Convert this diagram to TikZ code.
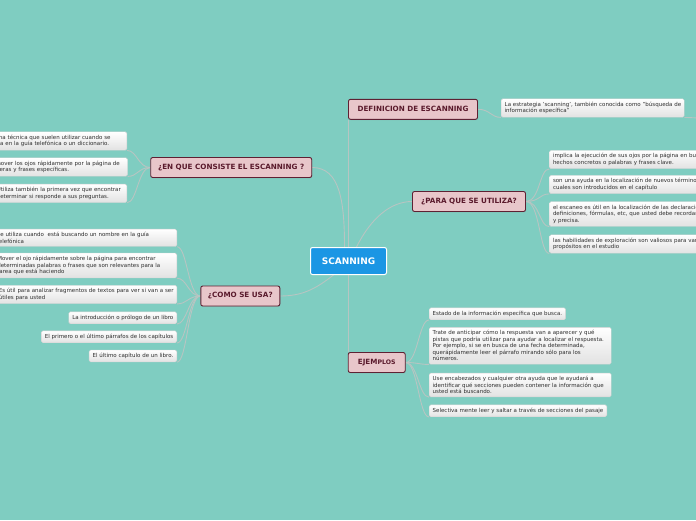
\documentclass[tikz,border=0pt]{standalone}
\usepackage{fontspec}
\setmainfont{DejaVu Sans}
\usetikzlibrary{shadows,calc}
\pgfdeclarelayer{bglayer}
\pgfdeclarelayer{linelayer}
\pgfsetlayers{bglayer,linelayer,main}
\definecolor{bg}{HTML}{7FCDC1}
\definecolor{conncol}{HTML}{B7C5C2}
\definecolor{pinkfill}{HTML}{E8C6CA}
\definecolor{pinkdraw}{HTML}{5E2133}
\definecolor{pinktext}{HTML}{5A1A2C}
\definecolor{bluefill}{HTML}{1B96E4}
\definecolor{leaftext}{HTML}{2E2E2E}
\definecolor{leafdraw}{HTML}{D2D2D2}
\definecolor{leafbot}{HTML}{E2E2E2}
\tikzset{
 rootbox/.style={draw=white, line width=1pt, fill=bluefill, rounded corners=2pt,
   minimum width=76pt, minimum height=27pt, text=white,
   font=\fontsize{9}{10}\selectfont\bfseries, inner sep=0pt},
 branchbox/.style={draw=pinkdraw, line width=0.9pt, fill=pinkfill, rounded corners=2pt,
   minimum height=20pt, text=pinktext, font=\fontsize{7.2}{8}\selectfont\bfseries, inner sep=0pt,
   drop shadow={opacity=0.25, shadow xshift=0.6pt, shadow yshift=-0.8pt}},
 leafbox/.style={draw=leafdraw, line width=0.4pt, top color=white, bottom color=leafbot,
   rounded corners=1.5pt, text=leaftext, font=\fontsize{5.5}{6.5}\selectfont,
   inner xsep=3.5pt, inner ysep=3.2pt, align=left},
 conn/.style={draw=conncol, line width=0.9pt},
}
\begin{document}
\begin{tikzpicture}[x=1pt,y=-1pt]
\useasboundingbox (0,0) rectangle (696,520);
\begin{pgfonlayer}{bglayer}
\fill[bg] (0,0) rectangle (696,520);
\end{pgfonlayer}
\clip (0,0) rectangle (696,520);

% main nodes
\node[rootbox] (scan) at (348.5,261) {SCANNING};
\node[branchbox, minimum width=129pt] (def) at (413,109.3) {DEFINICION DE ESCANNING};
\node[branchbox, minimum width=161pt] (enque) at (231.2,167.5) {¿EN QUE CONSISTE EL ESCANNING ?};
\node[branchbox, minimum width=113pt] (para) at (469,201.5) {¿PARA QUE SE UTILIZA?};
\node[branchbox, minimum width=79pt] (como) at (240.3,296) {¿COMO SE USA?};
\node[branchbox, minimum width=57pt] (ejem) at (376.7,362.5) {EJEM\raisebox{-0.5pt}{\fontsize{6.2}{7}\selectfont PLOS}};

% definition leaf
\node[leafbox, anchor=west, text width=176pt] (dl) at (501,108)
 {\mbox{La estrategia 'scanning', también conocida como "búsqueda de}\\\mbox{información específica"}};
\coordinate (dlend) at (700,118);

% para leaves
\node[leafbox, anchor=west, text width=230pt] (p1) at (549.3,159.5)
 {\mbox{implica la ejecución de sus ojos por la página en busca de}\\\mbox{hechos concretos o palabras y frases clave.}};
\node[leafbox, anchor=west, text width=230pt] (p2) at (549.3,184.5)
 {\mbox{son una ayuda en la localización de nuevos términos, los}\\\mbox{cuales son introducidos en el capítulo}};
\node[leafbox, anchor=west, text width=230pt] (p3) at (549.3,214)
 {\mbox{el escaneo es útil en la localización de las declaraciones,}\\\mbox{definiciones, fórmulas, etc, que usted debe recordar}\\\mbox{y precisa.}};
\node[leafbox, anchor=west, text width=230pt] (p4) at (549.3,244)
 {\mbox{las habilidades de exploración son valiosos para varios}\\\mbox{propósitos en el estudio}};

% ejemplos leaves
\node[leafbox, anchor=west] (e1) at (429,313.8)
 {Estado de la información específica que busca.};
\node[leafbox, anchor=west, text width=175pt] (e2) at (429,345.8)
 {\mbox{Trate de anticipar cómo la respuesta van a aparecer y qué}\\\mbox{pistas que podría utilizar para ayudar a localizar el respuesta.}\\\mbox{Por ejemplo, si se en busca de una fecha determinada,}\\\mbox{querápidamente leer el párrafo mirando sólo para los}\\\mbox{números.}};
\node[leafbox, anchor=west, text width=175pt] (e3) at (429,385)
 {\mbox{Use encabezados y cualquier otra ayuda que le ayudará a}\\\mbox{identificar qué secciones pueden contener la información que}\\\mbox{usted está buscando.}};
\node[leafbox, anchor=west] (e4) at (429,410.8)
 {Selectiva mente leer y saltar a través de secciones del pasaje};

% en que consiste leaves
\node[leafbox, anchor=east, text width=136pt] (c1) at (127,141)
 {\mbox{Es una técnica que suelen utilizar cuando se}\\\mbox{busca en la guía telefónica o un diccionario.}};
\node[leafbox, anchor=east, text width=136.6pt] (c2) at (127.7,167)
 {\mbox{Es mover los ojos rápidamente por la página de}\\\mbox{maneras y frases específicas.}};
\node[leafbox, anchor=east, text width=126.5pt] (c3) at (127,193.3)
 {\mbox{Utiliza también la primera vez que encontrar}\\\mbox{determinar si responde a sus preguntas.}};

% como se usa leaves
\node[leafbox, anchor=east, text width=176.5pt] (u1) at (177,237.8)
 {\mbox{Se utiliza cuando\ \ está buscando un nombre en la guía}\\\mbox{telefónica}};
\node[leafbox, anchor=east, text width=176pt] (u2) at (177,265.5)
 {\mbox{Mover el ojo rápidamente sobre la página para encontrar}\\\mbox{determinadas palabras o frases que son relevantes para la}\\\mbox{tarea que está haciendo}};
\node[leafbox, anchor=east, text width=174.5pt] (u3) at (177,294.5)
 {\mbox{Es útil para analizar fragmentos de textos para ver si van a ser}\\\mbox{útiles para usted}};
\node[leafbox, anchor=east] (u4) at (177,317.8) {La introducción o prólogo de un libro};
\node[leafbox, anchor=east] (u5) at (177,336.8) {El primero o el último párrafos de los capítulos};
\node[leafbox, anchor=east] (u6) at (177,356) {El último capítulo de un libro.};

% connectors
\begin{pgfonlayer}{linelayer}
\draw[conn] (def.south west) -- (def.south west |- ejem.north);
\draw[conn] (enque.east) .. controls +(28,0) and +(0,-45) .. ($(scan.north)+(-4,0)$);
\draw[conn] ($(scan.north)+(8,0)$) .. controls +(14,-28) and +(-22,0) .. (para.west);
\draw[conn] ($(scan.south)+(-15,0)$) .. controls +(-18,14) and +(22,0) .. (como.east);

\draw[conn] (def.east) .. controls +(12,0) and +(-10,0) .. (dl.south west);
\draw[conn] (dl.south east) -- (dlend);

\foreach \n in {p1,p2,p3,p4}{
  \draw[conn] (para.east) .. controls +(14,0) and +(-10,0) .. (\n.south west);
}
\foreach \n in {e1,e2,e3,e4}{
  \draw[conn] (ejem.east) .. controls +(12,0) and +(-10,0) .. (\n.south west);
}
\foreach \n in {c1,c2,c3}{
  \draw[conn] (enque.west) .. controls +(-12,0) and +(10,0) .. (\n.south east);
}
\foreach \n in {u1,u2,u3,u4,u5,u6}{
  \draw[conn] (como.west) .. controls +(-12,0) and +(10,0) .. (\n.south east);
}
\end{pgfonlayer}
\end{tikzpicture}
\end{document}
